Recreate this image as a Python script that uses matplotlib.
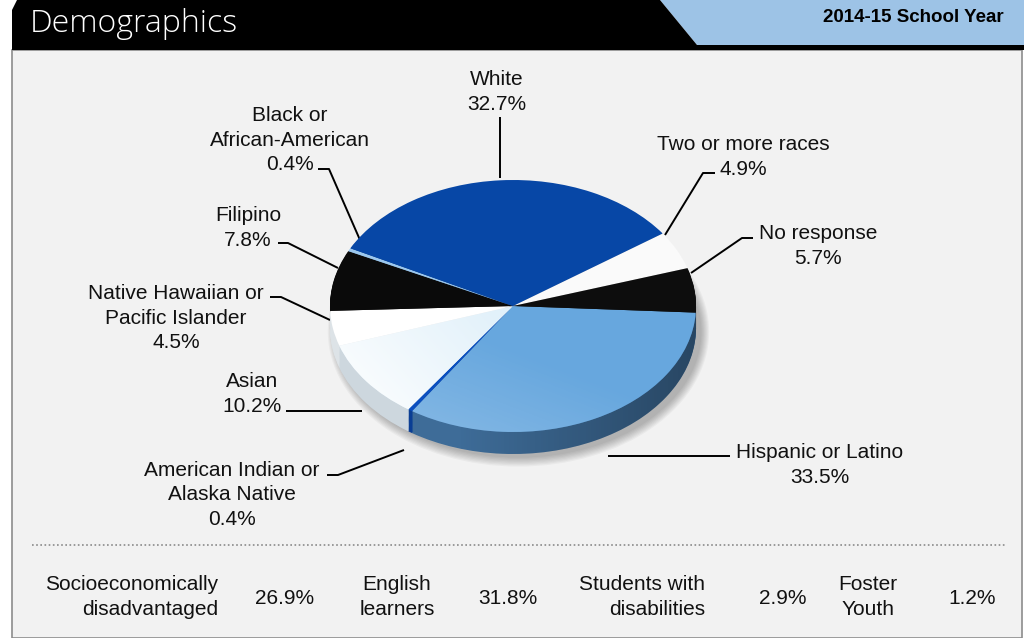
import numpy as np
import matplotlib
matplotlib.use("Agg")
import matplotlib.pyplot as plt
from matplotlib.patches import Polygon, Rectangle, Ellipse

plt.rcParams['font.family'] = ['Liberation Sans', 'DejaVu Sans']

# enrolment shares by group, clockwise from the right-hand edge of the pie
groups = ["Hispanic or Latino", "American Indian or\nAlaska Native", "Asian",
          "Native Hawaiian or\nPacific Islander", "Filipino",
          "Black or\nAfrican-American", "White", "Two or more races", "No response"]
shares = [33.5, 0.4, 10.2, 4.5, 7.8, 0.4, 32.7, 4.9, 5.7]
top_colors = ["#67a7de", "#0b4fbf", "#e2f1fa", "#ffffff", "#0a0a0a",
              "#9cc8ee", "#0747a6", "#fafafa", "#0d0d0d"]
side_colors = ["#3e6c98", "#0a3e94", "#cdd7de", "#dde3e7", "#141414",
               "#7fa8cc", "#06367e", "#d8d8d8", "#141414"]

# other student groups shown in the strip underneath
stat_names = ["Socioeconomically\ndisadvantaged", "English\nlearners",
              "Students with\ndisabilities", "Foster\nYouth"]
stat_values = [26.9, 31.8, 2.9, 1.2]

W, H = 1024, 638
fig = plt.figure(figsize=(W / 100, H / 100), dpi=100, facecolor="white")
ax = fig.add_axes([0, 0, 1, 1])
ax.set_xlim(0, W)
ax.set_ylim(H, 0)
ax.axis("off")

# panel body and header
ax.add_patch(Rectangle((12, 50), 1010, H - 50, facecolor="#f2f2f2",
                       edgecolor="#8c8c8c", linewidth=1.2))
ax.add_patch(Polygon([(660, 0), (W, 0), (W, 45), (697, 45)], closed=True,
                     facecolor="#9dc3e6", edgecolor="none"))
ax.add_patch(Polygon([(12, 10), (17, 0), (660, 0), (697, 45), (W, 45), (W, 50), (12, 50)],
                     closed=True, facecolor="black", edgecolor="none"))
ax.text(30, 24, "Demographics", color="white", fontsize=23, va="center",
        family=["Open Sans", "DejaVu Sans"], fontweight="light")
ax.text(1004, 17, "2014-15 School Year", color="black", fontsize=13.5,
        fontweight="bold", ha="right", va="center")

# pie: stacked copies give the extruded side, the last one is the top face
cx, cy, rx, ry, depth = 513, 306, 183, 126, 22
dz = depth / ry
pax = fig.add_axes([(cx - rx - 20) / W, 1 - (cy + ry + depth + 20) / H,
                    (2 * rx + 40) / W, (2 * ry + depth + 40) / H])
sx, sy = 1 + 20 / rx, 20 / ry

# soft drop shadow under the pie
for i in range(8):
    pax.add_patch(Ellipse((0.03, -dz - 0.03), 2.0 + 0.012 * i, 2.0 + 0.02 * i,
                          facecolor="#000000", alpha=0.035, edgecolor="none"))

n_layers = 24
for k in range(n_layers, 0, -1):
    pax.pie(shares, colors=side_colors, startangle=-3, counterclock=False,
            center=(0, -dz * k / n_layers), wedgeprops=dict(linewidth=0))

# darken the side band towards the right
t = np.linspace(np.pi, 2 * np.pi, 120)
band = np.vstack([np.c_[np.cos(t), np.sin(t)],
                  np.c_[np.cos(t[::-1]), np.sin(t[::-1]) - dz]])
band_patch = Polygon(band, closed=True, facecolor="none", edgecolor="none")
pax.add_patch(band_patch)
gx = np.linspace(-1, 1, 200)
shade = np.zeros((2, 200, 4))
shade[..., 3] = np.clip((gx + 0.3) / 1.3, 0, 1) * 0.35
im = pax.imshow(shade, extent=(-1, 1, -1 - dz, 0.2), origin="lower",
                aspect="auto", zorder=3)
im.set_clip_path(band_patch)

wedges, _ = pax.pie(shares, colors=top_colors, startangle=-3, counterclock=False,
                    wedgeprops=dict(linewidth=0, zorder=4))

# white sheen across the Asian and Hispanic faces
yy, xx = np.mgrid[-1:1:200j, -1:1:200j]
sheen = np.ones((200, 200, 4))
sheen[..., 3] = np.clip(-(xx * 0.8 + yy * 0.5) - 0.1, 0, 1) * 0.9
im2 = pax.imshow(sheen, extent=(-1, 1, -1, 1), origin="lower", aspect="auto",
                 zorder=5)
im2.set_clip_path(wedges[2])
sheen_h = np.ones((200, 200, 4))
sheen_h[..., 3] = np.clip(-(xx * 0.5 + yy * 0.9) - 0.3, 0, 1) * 0.22
im3 = pax.imshow(sheen_h, extent=(-1, 1, -1, 1), origin="lower", aspect="auto",
                 zorder=5)
im3.set_clip_path(wedges[0])

pax.set_aspect("auto")
pax.set_xlim(-sx, sx)
pax.set_ylim(-1 - dz - sy, 1 + sy)
pax.axis("off")

# labels with leader lines (text anchor, elbow, tip in pixels)
label_layout = [
    ((820, 465), [(608, 456), (730, 456)]),
    ((232, 495), [(327, 475), (338, 475), (404, 450)]),
    ((252, 394), [(286, 411), (362, 411)]),
    ((176, 318), [(270, 297), (281, 297), (330, 320)]),
    ((248, 228), [(278, 243), (288, 243), (338, 268)]),
    ((290, 140), [(318, 169), (329, 169), (360, 240)]),
    ((497, 92), [(500, 117), (500, 178)]),
    ((743, 157), [(715, 173), (703, 173), (665, 235)]),
    ((818, 246), [(753, 238), (742, 238), (691, 273)]),
]
for name, val, (pos, path) in zip(groups, shares, label_layout):
    ax.text(pos[0], pos[1], f"{name}\n{val:.1f}%", fontsize=15, ha="center",
            va="center", linespacing=1.38, color="#111111")
    xs, ys = zip(*path)
    ax.plot(xs, ys, color="black", linewidth=1.4, solid_capstyle="butt")

# dotted divider and bottom strip
ax.plot([32, 1005], [545, 545], color="#8a8a8a", linewidth=1.2,
        linestyle=(0, (1, 1.5)))
name_pos = [(218, "right"), (397, "center"), (705, "right"), (868, "center")]
value_x = [285, 508, 783, 972]
for name, val, (nx, ha), vx in zip(stat_names, stat_values, name_pos, value_x):
    ax.text(nx, 597, name, fontsize=15, ha=ha, va="center", multialignment=ha,
            linespacing=1.38, color="#111111")
    ax.text(vx, 598, f"{val:.1f}%", fontsize=15, ha="center", va="center",
            color="#111111")

fig.savefig("out.png", dpi=100, facecolor="white")
